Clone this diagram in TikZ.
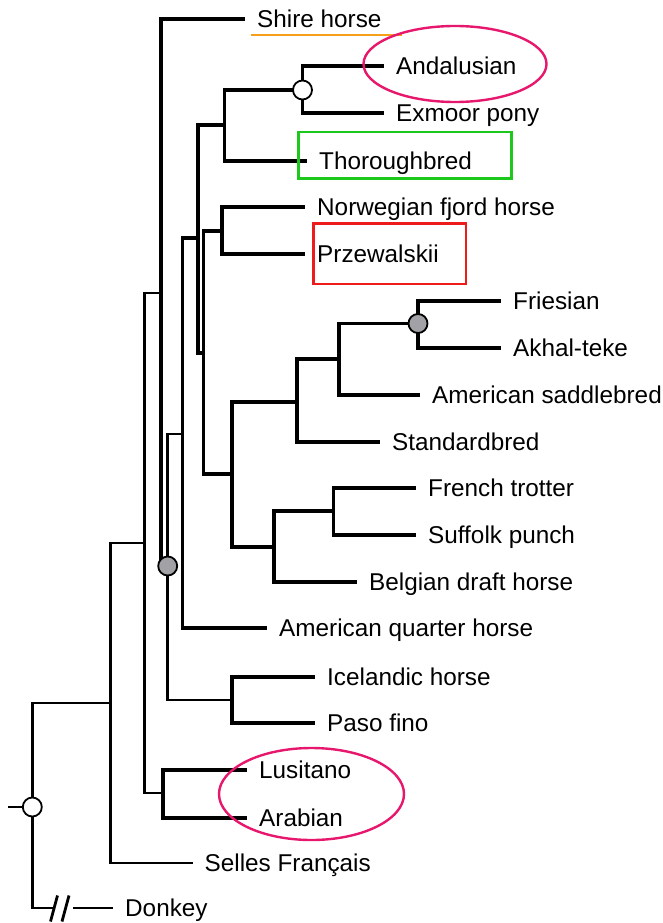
\documentclass[tikz,border=0pt]{standalone}
\usepackage{fontspec}
\setmainfont{Liberation Sans}
\usetikzlibrary{shapes.geometric}
\definecolor{pinkc}{HTML}{E6176C}
\definecolor{greenc}{HTML}{1DC81D}
\definecolor{redc}{HTML}{EE1B1B}
\definecolor{orangec}{HTML}{F6A01A}
\definecolor{grayc}{HTML}{A2A2A6}
\begin{document}
\begin{tikzpicture}[x=1pt,y=-1pt,
  thk/.style={line width=3.6pt},
  thn/.style={line width=2.8pt},
  leaf/.style={anchor=west, inner xsep=12pt, inner ysep=0pt, text height=17.4pt, text depth=0pt,
    font=\fontsize{24.3pt}{27pt}\selectfont},
  wcirc/.style={circle, draw, line width=1.8pt, fill=white, minimum size=19pt, inner sep=0pt},
  gcirc/.style={circle, draw, line width=1.8pt, fill=grayc, minimum size=19pt, inner sep=0pt},
  annot/.style={line width=2.4pt}
]
\useasboundingbox (0,0) rectangle (663,923);

% internal coordinates
\coordinate (root) at (32.3,807);
\coordinate (n111) at (110.5,703);
\coordinate (n145) at (144.3,543);
\coordinate (n160) at (161,293);
\coordinate (n168) at (167.7,566);
\coordinate (n183) at (182.3,434);
\coordinate (n197) at (197.7,238);
\coordinate (n204) at (203.3,353);
\coordinate (AET) at (224.4,125);
\coordinate (AE) at (302.5,90);
\coordinate (NP) at (222,231);
\coordinate (B) at (232,474);
\coordinate (S) at (297,402);
\coordinate (SA) at (339,359);
\coordinate (FA) at (418,323.5);
\coordinate (BD) at (274,547);
\coordinate (FS) at (333.6,511);
\coordinate (IP) at (231.7,700);
\coordinate (LA) at (163,793);
\coordinate (stub) at (8.3,807);
\coordinate (dk1) at (53,908);
\coordinate (dk2) at (73,908);

% leaves
\node[leaf] (shire) at (245,19) {Shire horse};
\node[leaf] (andal) at (384,66) {Andalusian};
\node[leaf] (exmoor) at (384,113) {Exmoor pony};
\node[leaf] (thorough) at (307,161) {Thoroughbred};
\node[leaf] (norw) at (305,207) {Norwegian fjord horse};
\node[leaf] (przew) at (305,254) {Przewalskii};
\node[leaf] (fries) at (501,301) {Friesian};
\node[leaf] (akhal) at (501,348) {Akhal-teke};
\node[leaf] (amsad) at (420,395) {American saddlebred};
\node[leaf] (stand) at (380,442) {Standardbred};
\node[leaf] (french) at (416,488) {French trotter};
\node[leaf] (suffolk) at (416,535) {Suffolk punch};
\node[leaf] (belgian) at (357,582) {Belgian draft horse};
\node[leaf] (amq) at (267,628) {American quarter horse};
\node[leaf] (iceland) at (315,677) {Icelandic horse};
\node[leaf] (paso) at (315,723) {Paso fino};
\node[leaf] (lusit) at (247,770) {Lusitano};
\node[leaf] (arab) at (247,818) {Arabian};
\node[leaf] (selles) at (192.5,863) {Selles Français};
\node[leaf] (donkey) at (113,908) {Donkey};

% thin branches
\draw[thn] (stub) -- (root);
\draw[thn] (root) |- (n111);
\draw[thn] (root) |- (dk1);
\draw[thn] (dk2) -- (donkey.west);
\draw[thn] (50.5,921.5) -- (57.5,895.5);
\draw[thn] (62,921.5) -- (69,895.5);
\draw[thn] (n111) |- (n145);
\draw[thn] (n111) |- (selles.west);
\draw[thn] (n145) |- (n160);
\draw[thn] (n145) |- (LA);
\draw[thn] (n168) |- (n183);
\draw[thn] (n168) |- (IP);

% thick branches
\draw[thk] (n160) |- (shire.west);
\draw[thk] (n160) |- (n168);
\draw[thk] (n183) |- (n197);
\draw[thk] (n183) |- (amq.west);
\draw[thk] (n197) |- (AET);
\draw[thk] (n197) |- (n204);
\draw[thk] (AET) |- (AE);
\draw[thk] (AET) |- (thorough.west);
\draw[thk] (AE) |- (andal.west);
\draw[thk] (AE) |- (exmoor.west);
\draw[thk] (n204) |- (NP);
\draw[thk] (n204) |- (B);
\draw[thk] (NP) |- (norw.west);
\draw[thk] (NP) |- (przew.west);
\draw[thk] (B) |- (S);
\draw[thk] (B) |- (BD);
\draw[thk] (S) |- (SA);
\draw[thk] (S) |- (stand.west);
\draw[thk] (SA) |- (FA);
\draw[thk] (SA) |- (amsad.west);
\draw[thk] (FA) |- (fries.west);
\draw[thk] (FA) |- (akhal.west);
\draw[thk] (BD) |- (FS);
\draw[thk] (BD) |- (belgian.west);
\draw[thk] (FS) |- (french.west);
\draw[thk] (FS) |- (suffolk.west);
\draw[thk] (IP) |- (iceland.west);
\draw[thk] (IP) |- (paso.west);
\draw[thk] (LA) |- (lusit.west);
\draw[thk] (LA) |- (arab.west);

% node markers
\node[wcirc] (croot) at (root) {};
\node[wcirc] (cAE) at (AE) {};
\node[gcirc] (cn168) at (n168) {};
\node[gcirc] (cFA) at (FA) {};

% annotations
\draw[annot, orangec] (251,35) -- (402,35);
\node[draw=pinkc, annot, ellipse, minimum width=183pt, minimum height=76pt, inner sep=0pt] (ell1) at (455,64) {};
\node[draw=pinkc, annot, ellipse, minimum width=185pt, minimum height=92pt, inner sep=0pt] (ell2) at (311.5,794) {};
\draw[annot, greenc] (298.3,132.3) rectangle (511.3,178.3);
\draw[annot, redc] (313.6,223.3) rectangle (465.8,284);
\end{tikzpicture}
\end{document}
